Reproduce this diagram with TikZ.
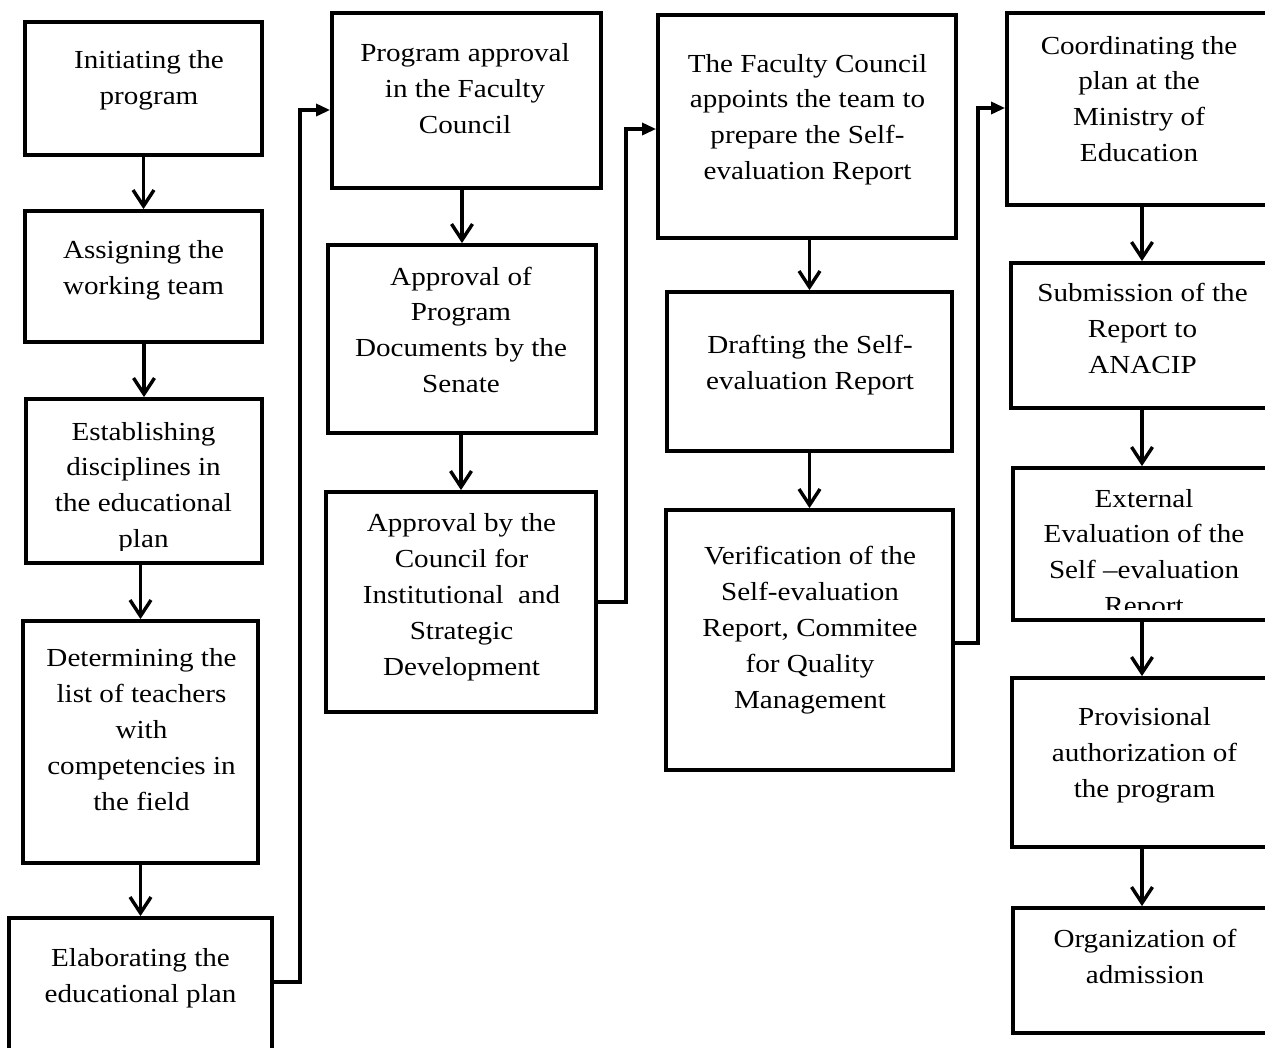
\documentclass[tikz,border=0pt]{standalone}
\usepackage{fontspec}
\setmainfont{Liberation Serif}[FakeStretch=1.12]
\usetikzlibrary{arrows.meta}

\tikzset{
    stepbox/.style={draw, line width=3.8pt, inner sep=0pt},
    steptext/.style={align=center, anchor=base, inner sep=0pt, font=\fontsize{26pt}{35.8pt}\selectfont},
    flow/.style={line width=3.4pt, -{Straight Barb[length=16pt,width=21pt]}},
    link/.style={line width=3.2pt, -{Triangle[length=14pt,width=12pt]}},
}

\begin{document}
\begin{tikzpicture}[x=1pt, y=-1pt]
        \clip (0,0) rectangle (1265,1047);      % page frame, boxes on the right and bottom run past it

        % the boxes - named b1 ... b16, column by column
        \node[stepbox, minimum width=237pt, minimum height=133pt] (b1) at (143.5,88.5) {};
        \node[stepbox, minimum width=237pt, minimum height=131pt] (b2) at (143.5,276.5) {};
        \node[stepbox, minimum width=236pt, minimum height=164pt] (b3) at (144,481) {};
        \node[stepbox, minimum width=235pt, minimum height=242pt] (b4) at (140.5,742) {};
        \node[stepbox, minimum width=263pt, minimum height=152pt] (b5) at (140.5,994) {};

        \node[stepbox, minimum width=269pt, minimum height=175pt] (b6) at (466.5,100.5) {};
        \node[stepbox, minimum width=268pt, minimum height=188pt] (b7) at (462,339) {};
        \node[stepbox, minimum width=270pt, minimum height=220pt] (b8) at (461,602) {};

        \node[stepbox, minimum width=298pt, minimum height=223pt] (b9) at (807,126.5) {};
        \node[stepbox, minimum width=285pt, minimum height=159pt] (b10) at (809.5,371.5) {};
        \node[stepbox, minimum width=287pt, minimum height=260pt] (b11) at (809.5,640) {};

        \node[stepbox, minimum width=270pt, minimum height=192pt] (b12) at (1142,109) {};
        \node[stepbox, minimum width=262pt, minimum height=145pt] (b13) at (1142,335.5) {};
        \node[stepbox, minimum width=258pt, minimum height=152pt] (b14) at (1142,544) {};
        \node[stepbox, minimum width=260pt, minimum height=169pt] (b15) at (1142,762.5) {};
        \node[stepbox, minimum width=258pt, minimum height=125pt] (b16) at (1142,970.5) {};

        % the texts - placed on the baseline of their last line
        \node[steptext] (t1) at (149,104) {Initiating the\\program};
        \node[steptext] (t2) at (143.5,294) {Assigning the\\working team};
        \begin{scope}
            \clip (0,0) rectangle (1265,550);   % last line is cut by the box
            \node[steptext] (t3) at (143.5,547.5) {Establishing\\disciplines in\\the educational\\plan};
        \end{scope}
        \node[steptext] (t4) at (141.5,810) {Determining the\\list of teachers\\with\\competencies in\\the field};
        \node[steptext] (t5) at (140.5,1002) {Elaborating the\\educational plan};

        \node[steptext] (t6) at (465,133.5) {Program approval\\in the Faculty\\Council};
        \node[steptext] (t7) at (461,392.5) {Approval of\\Program\\Documents by the\\Senate};
        \node[steptext] (t8) at (461.5,675) {Approval by the\\Council for\\Institutional~~and\\Strategic\\Development};

        \node[steptext] (t9) at (807.5,179.5) {The Faculty Council\\appoints the team to\\prepare the Self-\\evaluation Report};
        \node[steptext] (t10) at (810,389) {Drafting the Self-\\evaluation Report};
        \node[steptext] (t11) at (810,708) {Verification of the\\Self-evaluation\\Report, Commitee\\for Quality\\Management};

        \node[steptext] (t12) at (1139,161.5) {Coordinating the\\plan at the\\Ministry of\\Education};
        \node[steptext] (t13) at (1142.5,373.5) {Submission of the\\Report to\\ANACIP};
        \begin{scope}
            \clip (0,0) rectangle (1265,609);   % last line is cut by the box
            \node[steptext] (t14) at (1144,614.5) {External\\Evaluation of the\\Self –evaluation\\Report};
        \end{scope}
        \node[steptext] (t15) at (1144.5,797.5) {Provisional\\authorization of\\the program};
        \node[steptext] (t16) at (1145,983) {Organization of\\admission};

        % arrows down each column
        \draw[flow] (b1.south -| b2.north) -- (b2.north);
        \draw[flow] (b2.south -| b3.north) -- (b3.north);
        \draw[flow] (b3.south -| b4.north) -- (b4.north);
        \draw[flow] (b4.south -| b5.north) -- (b5.north);
        \draw[flow] (b6.south -| b7.north) -- (b7.north);
        \draw[flow] (b7.south -| b8.north) -- (b8.north);
        \draw[flow] (b9.south -| b10.north) -- (b10.north);
        \draw[flow] (b10.south -| b11.north) -- (b11.north);
        \draw[flow] (b12.south -| b13.north) -- (b13.north);
        \draw[flow] (b13.south -| b14.north) -- (b14.north);
        \draw[flow] (b14.south -| b15.north) -- (b15.north);
        \draw[flow] (b15.south -| b16.north) -- (b16.north);

        % links from the foot of one column to the head of the next
        \coordinate (e1) at (300,982);   \coordinate (f1) at (300,110);
        \coordinate (e2) at (626,602);   \coordinate (f2) at (626,129);
        \coordinate (e3) at (978,643);   \coordinate (f3) at (978,108);
        \draw[link] (e1 -| b5.east) -- (e1) -- (f1) -- (f1 -| b6.west);
        \draw[link] (e2 -| b8.east) -- (e2) -- (f2) -- (f2 -| b9.west);
        \draw[link] (e3 -| b11.east) -- (e3) -- (f3) -- (f3 -| b12.west);
\end{tikzpicture}
\end{document}
